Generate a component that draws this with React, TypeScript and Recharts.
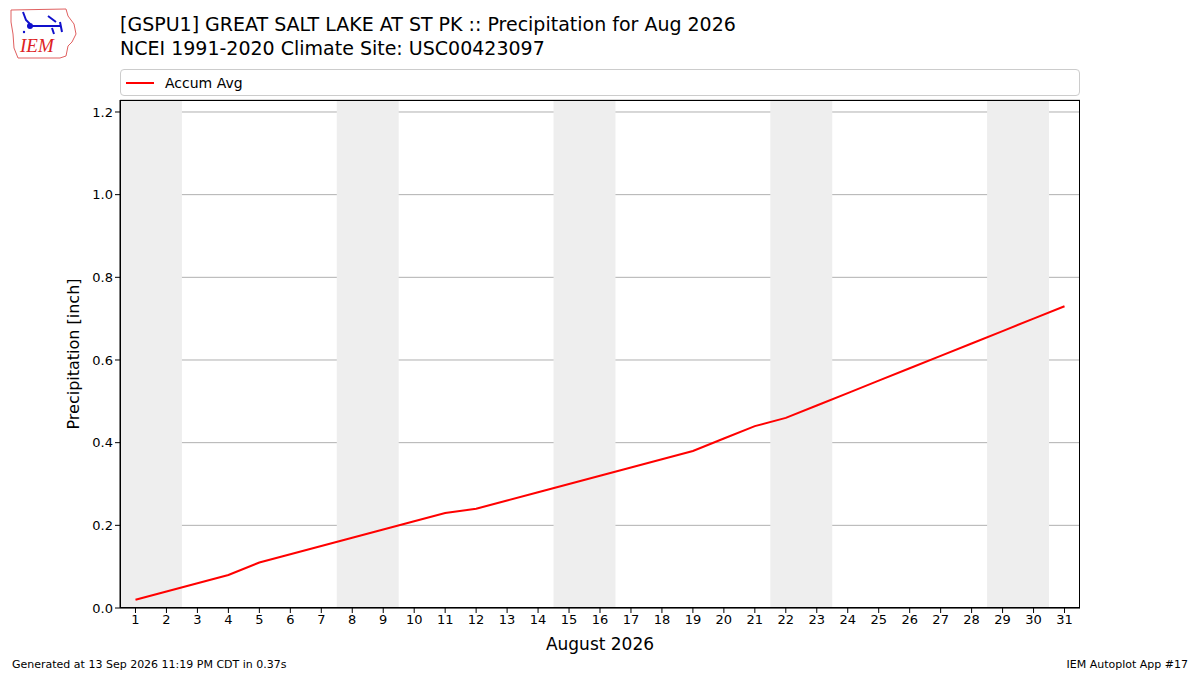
import React from "react";
import {
  CartesianGrid,
  ComposedChart,
  Line,
  ReferenceArea,
  XAxis,
  YAxis,
} from "recharts";

// August 2026 day numbers and the accumulated average precipitation (inch)
const days = Array.from({ length: 31 }, (_, i) => i + 1);
const accumAvg = [
  0.02, 0.04, 0.06, 0.08, 0.11, 0.13, 0.15, 0.17, 0.19, 0.21,
  0.23, 0.24, 0.26, 0.28, 0.3, 0.32, 0.34, 0.36, 0.38, 0.41,
  0.44, 0.46, 0.49, 0.52, 0.55, 0.58, 0.61, 0.64, 0.67, 0.7, 0.73,
];
// first day (Saturday) of every weekend in the month
const weekendStarts = [1, 8, 15, 22, 29];
const yTicks = [0, 0.2, 0.4, 0.6, 0.8, 1.0, 1.2];

const FONT = "'DejaVu Sans', Verdana, sans-serif";

const chartData = days.map((day, i) => ({ day, avg: accumAvg[i] }));

function LegendBox() {
  return (
    <div
      style={{
        position: "absolute",
        left: 120,
        top: 69,
        width: 958,
        height: 25,
        border: "1px solid #cccccc",
        borderRadius: 4,
        display: "flex",
        alignItems: "center",
        fontFamily: FONT,
        fontSize: 14,
        background: "#fff",
      }}
    >
      <div style={{ width: 28, height: 2, background: "red", marginLeft: 5, marginRight: 11 }} />
      <span>Accum Avg</span>
    </div>
  );
}

function Logo() {
  return (
    <svg width="74" height="60" style={{ position: "absolute", left: 8, top: 4 }}>
      <path
        d="M3 6 L58 5 L60 12 L66 20 L68 30 L64 38 L60 42 L58 52 L52 54 L10 54 L6 44 L5 30 L3 18 Z"
        fill="none"
        stroke="#e06060"
        strokeWidth="1"
      />
      <path d="M15 8 L18 16 L22 20 M22 22 L52 22 M40 12 L48 18 M52 18 L54 28 M44 24 L46 30" stroke="#1010cc" strokeWidth="2" fill="none" />
      <circle cx="22" cy="22" r="3" fill="#1010cc" />
      <circle cx="16" cy="28" r="1.2" fill="#1010cc" />
      <text x="12" y="48" fill="#dd2222" fontFamily="'Liberation Serif', serif" fontStyle="italic" fontSize="19">
        IEM
      </text>
    </svg>
  );
}

export default function App() {
  return (
    <div
      style={{
        position: "absolute",
        left: 0,
        top: 0,
        width: 1200,
        height: 675,
        background: "#fff",
        fontFamily: FONT,
      }}
    >
      <Logo />
      <div style={{ position: "absolute", left: 120, top: 12, fontSize: 19, lineHeight: "24px" }}>
        <div>[GSPU1] GREAT SALT LAKE AT ST PK :: Precipitation for Aug 2026</div>
        <div>NCEI 1991-2020 Climate Site: USC00423097</div>
      </div>

      <ComposedChart
        width={1200}
        height={675}
        data={chartData}
        margin={{ top: 100, right: 120, bottom: 17, left: 60 }}
      >
        {weekendStarts.map((d) => (
          <ReferenceArea
            key={d}
            x1={d - 0.5}
            x2={d + 1.5}
            fill="#eeeeee"
            fillOpacity={1}
            stroke="none"
            ifOverflow="hidden"
          />
        ))}
        <CartesianGrid stroke="#b0b0b0" vertical={false} />
        <XAxis
          dataKey="day"
          type="number"
          domain={[0.5, 31.5]}
          ticks={days}
          interval={0}
          height={50}
          tickSize={5}
          axisLine={{ stroke: "#000" }}
          tickLine={{ stroke: "#000" }}
          tick={{ fill: "#000", fontSize: 13, fontFamily: FONT }}
          label={{
            value: "August 2026",
            position: "insideBottom",
            offset: 8,
            fill: "#000",
            fontSize: 17,
            fontFamily: FONT,
          }}
        />
        <YAxis
          type="number"
          domain={[0, 1.229]}
          ticks={yTicks}
          width={60}
          tickSize={5}
          tickFormatter={(v) => Number(v).toFixed(1)}
          axisLine={{ stroke: "#000" }}
          tickLine={{ stroke: "#000" }}
          tick={{ fill: "#000", fontSize: 13, fontFamily: FONT }}
          label={{
            value: "Precipitation [inch]",
            angle: -90,
            position: "insideLeft",
            offset: 13,
            style: { textAnchor: "middle" },
            fill: "#000",
            fontSize: 16,
            fontFamily: FONT,
          }}
        />
        <Line
          dataKey="avg"
          name="Accum Avg"
          type="linear"
          stroke="red"
          strokeWidth={2}
          dot={false}
          isAnimationActive={false}
        />
      </ComposedChart>

      <LegendBox />
      <div
        style={{
          position: "absolute",
          left: 120,
          top: 100,
          width: 958,
          height: 506,
          border: "1px solid #000",
          pointerEvents: "none",
        }}
      />
      <div style={{ position: "absolute", left: 12, top: 658, fontSize: 11 }}>
        Generated at 13 Sep 2026 11:19 PM CDT in 0.37s
      </div>
      <div style={{ position: "absolute", right: 12, top: 658, fontSize: 11 }}>
        IEM Autoplot App #17
      </div>
    </div>
  );
}
